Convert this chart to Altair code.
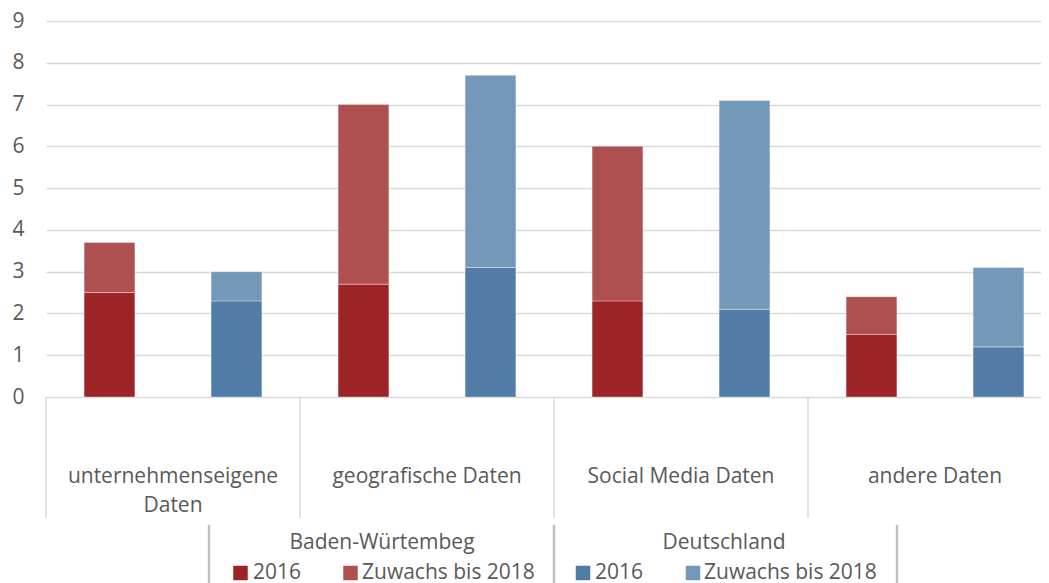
import altair as alt
import pandas as pd

# ---- data ----
categories = ["unternehmenseigene Daten", "geografische Daten", "Social Media Daten", "andere Daten"]
category_labels = ["unternehmenseigene\nDaten", "geografische Daten", "Social Media Daten", "andere Daten"]
regions = ["Baden-Würtembeg", "Deutschland"]
series = ["2016", "Zuwachs bis 2018"]
bw_2016 = [2.5, 2.7, 2.3, 1.5]
bw_zuwachs = [1.2, 4.3, 3.7, 0.9]
de_2016 = [2.3, 3.1, 2.1, 1.2]
de_zuwachs = [0.7, 4.6, 5.0, 1.9]
y_ticks = [0, 1, 2, 3, 4, 5, 6, 7, 8, 9]

# ---- styles ----
FONT = "Open Sans"
TXT = "#595959"
colors = ["#9c2326", "#af5050", "#507ca5", "#7398b8"]
keys = [f"{r} | {s}" for r in regions for s in series]

rows = []
for i, c in enumerate(categories):
    vals = {regions[0]: (bw_2016[i], bw_zuwachs[i]), regions[1]: (de_2016[i], de_zuwachs[i])}
    for r in regions:
        for j, s in enumerate(series):
            rows.append(dict(cat=c, region=r, series=s, order=j, value=vals[r][j], key=f"{r} | {s}"))
df = pd.DataFrame(rows)

color_scale = alt.Scale(domain=keys, range=colors)
# category bands continue past the visible right edge, as in the original
x_scale = alt.Scale(paddingInner=0, paddingOuter=0, range=[0, 1016])

bars = alt.Chart(df).mark_bar(stroke="white", strokeOpacity=0.35, strokeWidth=1).encode(
    x=alt.X("cat:N", sort=categories, scale=x_scale, axis=None),
    xOffset=alt.XOffset("region:N", sort=regions,
                        scale=alt.Scale(paddingInner=0.6, paddingOuter=0.3)),
    y=alt.Y("value:Q", stack="zero", scale=alt.Scale(domain=[0, 9], nice=False),
            axis=alt.Axis(values=y_ticks, title=None, grid=True, gridColor="#d9d9d9",
                          gridWidth=1.5, domain=False, ticks=False, labelPadding=22,
                          labelFont=FONT, labelFontSize=21, labelColor=TXT)),
    color=alt.Color("key:N", scale=color_scale, legend=None),
    order=alt.Order("order:Q"),
)

cat_df = pd.DataFrame({"cat": categories, "label": category_labels})
cat_text = alt.Chart(cat_df).mark_text(
    font=FONT, fontSize=21, color=TXT, baseline="alphabetic", lineBreak="\n", lineHeight=29
).encode(
    x=alt.X("cat:N", sort=categories, scale=x_scale, axis=None),
    y=alt.value(462),
    text="label:N",
)
cat_seps = alt.Chart(cat_df).mark_rule(color="#d9d9d9", strokeWidth=1.5).encode(
    x=alt.X("cat:N", sort=categories, scale=x_scale, axis=None, bandPosition=0),
    y=alt.value(376),
    y2=alt.value(497),
)

# ---- custom two-level legend (layout positions in pixels) ----
leg_df = pd.DataFrame({
    "key": keys,
    "label": [s for r in regions for s in series],
    "sq_px": [194.5, 304.5, 537, 647],
    "tx_px": [207, 316, 549, 658],
})
leg_sq = alt.Chart(leg_df).mark_square(size=210, opacity=1).encode(
    x=alt.X("sq_px:Q", scale=None, axis=None),
    y=alt.value(552),
    color=alt.Color("key:N", scale=color_scale, legend=None),
)
leg_tx = alt.Chart(leg_df).mark_text(
    font=FONT, fontSize=21, color=TXT, align="left", baseline="alphabetic"
).encode(
    x=alt.X("tx_px:Q", scale=None, axis=None),
    y=alt.value(558),
    text="label:N",
)
grp_df = pd.DataFrame({"region": regions, "px": [336, 678]})
leg_grp = alt.Chart(grp_df).mark_text(
    font=FONT, fontSize=21, color=TXT, align="center", baseline="alphabetic"
).encode(
    x=alt.X("px:Q", scale=None, axis=None),
    y=alt.value(528),
    text="region:N",
)
sep_df = pd.DataFrame({"px": [163, 508, 851]})
leg_sep = alt.Chart(sep_df).mark_rule(color="#c0c0c0", strokeWidth=2.5).encode(
    x=alt.X("px:Q", scale=None, axis=None),
    y=alt.value(504),
    y2=alt.value(590),
)

chart = alt.layer(bars, cat_seps, cat_text, leg_sep, leg_grp, leg_sq, leg_tx).properties(
    width=995,
    height=376,
    padding={"left": 38, "top": 13, "right": 0, "bottom": 186},
    autosize=alt.AutoSizeParams(type="none"),
).configure_view(stroke=None)

chart.save("out.html", embed_options={"renderer": "svg", "actions": False})
